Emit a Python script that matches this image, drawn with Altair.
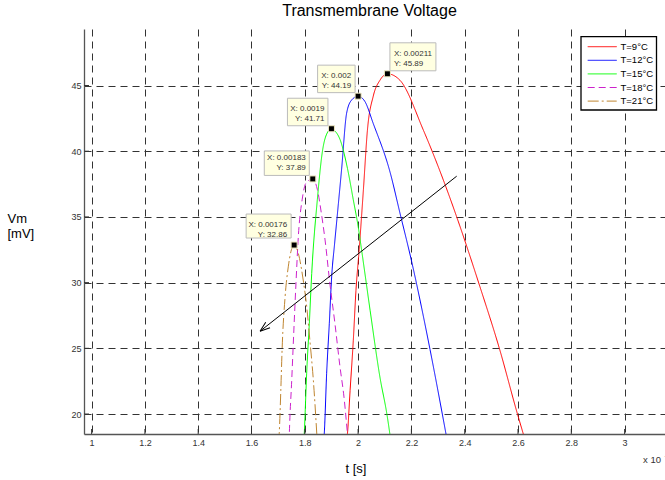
import math
import altair as alt
import pandas as pd

FONT = "Liberation Sans"

# ---------------- data (x in units of 1e-3 s, y in mV) ----------------
series_names = ["T=9°C", "T=12°C", "T=15°C", "T=18°C", "T=21°C"]

red_x = [1.955, 1.96, 1.97, 1.982, 1.992, 2.004, 2.02, 2.035, 2.057, 2.082, 2.11,
         2.157, 2.245, 2.32, 2.37, 2.457, 2.53, 2.598, 2.63]
red_y = [17.8, 18.5, 21.8, 25.6, 29.4, 32.5, 37.1, 41.6, 44.2, 45.4, 45.89,
         45.4, 41.6, 37.8, 35.0, 29.7, 25.0, 20.0, 17.8]

blue_x = [1.870, 1.873, 1.882, 1.892, 1.901, 1.912, 1.926, 1.938, 1.957, 1.976, 2.0,
          2.025, 2.057, 2.12, 2.157, 2.201, 2.27, 2.316, 2.336]
blue_y = [17.8, 18.5, 23.1, 26.9, 30.5, 33.0, 36.0, 38.6, 42.9, 43.9, 44.19,
          43.8, 42.1, 38.4, 35.3, 31.6, 24.9, 20.0, 17.8]

green_x = [1.796, 1.798, 1.807, 1.817, 1.826, 1.847, 1.867, 1.882, 1.9, 1.915, 1.932,
           1.96, 1.982, 2.0, 2.013, 2.045, 2.082, 2.108, 2.124]
green_y = [17.8, 18.5, 23.1, 26.9, 30.7, 36.3, 40.1, 41.3, 41.71, 41.5, 40.9,
           38.7, 36.3, 34.3, 32.5, 27.9, 22.8, 20.0, 17.8]

magenta_x = [1.741, 1.742, 1.751, 1.759, 1.767, 1.776, 1.79, 1.805, 1.83, 1.847, 1.862,
             1.876, 1.894, 1.913, 1.932, 1.947, 1.96, 1.963]
magenta_y = [17.8, 18.5, 22.6, 26.4, 30.0, 33.6, 36.3, 37.6, 37.89, 37.1, 35.3,
             33.25, 29.95, 26.9, 23.6, 21.3, 18.5, 17.8]

brown_x = [1.702, 1.704, 1.71, 1.715, 1.726, 1.738, 1.76, 1.776, 1.794, 1.807, 1.82, 1.832, 1.847]
brown_y = [17.8, 18.5, 21.8, 25.0, 28.9, 31.2, 32.86, 32.2, 30.2, 28.2, 25.4, 22.6, 17.8]

tip_x = [2.11, 2.0, 1.9, 1.83, 1.76]
tip_y = [45.89, 44.19, 41.71, 37.89, 32.86]
tip_xlabel = ["X: 0.00211", "X: 0.002", "X: 0.0019", "X: 0.00183", "X: 0.00176"]
tip_ylabel = ["Y: 45.89", "Y: 44.19", "Y: 41.71", "Y: 37.89", "Y: 32.86"]

arrow_x = [2.37, 1.632]
arrow_y = [38.1, 26.3]

x_ticks = [1.0, 1.2, 1.4, 1.6, 1.8, 2.0, 2.2, 2.4, 2.6, 2.8, 3.0]
y_ticks = [20, 25, 30, 35, 40, 45]
exp_label = ["x 10"]
exp_sup = ["-3"]

# ---------------- styles ----------------
colors = ["#FF0000", "#0000FF", "#00FF00", "#CC22CC", "#BF8530"]
dashes = [[1, 0], [1, 0], [1, 0], [7, 4], [11, 3, 2, 3]]

W, H = 581, 405
XDOM = [0.9715, 3.1516]
YDOM = [18.48, 49.3]
xscale = alt.Scale(domain=XDOM, nice=False, zero=False)
yscale = alt.Scale(domain=YDOM, nice=False, zero=False)

# datatip box layout (pixel offsets from marker): x0, x1, text align, text dx
tip_layout = [
    (2.5, 48.5, "left", 6.5),
    (-40.5, -3, "right", -7),
    (-44, -3.5, "right", -7),
    (-48.5, -3.5, "right", -7),
    (-48, -3, "right", -7),
]
tip_dy = [(-31, -3), (-31, -3.5), (-30.5, -3), (-28, -3.5), (-31, -7)]
tip_text_dy = [(-18, -8), (-18, -8), (-18, -8), (-19, -9), (-18.5, -8.5)]

# legend layout (plot-relative pixels)
LEG_BOX = (497, 572.5, 7.7, 81)
LEG_LINE = (503.7, 532.7)
LEG_TEXT_X = 536.5
LEG_Y0, LEG_DY = 17.7, 13.6

rows = []
for name, xs, ys in zip(series_names,
                        [red_x, blue_x, green_x, magenta_x, brown_x],
                        [red_y, blue_y, green_y, magenta_y, brown_y]):
    for i, (a, b) in enumerate(zip(xs, ys)):
        rows.append({"series": name, "x": a, "y": b, "i": i})
df = pd.DataFrame(rows)

x_axis = alt.Axis(
    values=x_ticks, format="~g", title="t [s]", titleFont=FONT, titleFontSize=13,
    titleFontWeight="normal", titleColor="black", titleX=271.5, titleY=38.7,
    titleAlign="center", titleBaseline="alphabetic", titleAnchor="start",
    labelFont=FONT, labelFontSize=9, labelColor="#333", labelPadding=4,
    labelFlush=False, labelOverlap=False, ticks=False,
    domainColor="#555", domainWidth=1.3,
    grid=True, gridColor="#333", gridDash=[7, 5], gridWidth=1,
)
y_axis = alt.Axis(
    values=y_ticks, title=["Vm", "[mV]"], titleFont=FONT, titleFontSize=13,
    titleFontWeight="normal", titleColor="black", titleAngle=0, titleX=-77,
    titleY=193, titleAlign="left", titleBaseline="alphabetic", titleLineHeight=15,
    titleAnchor="start",
    labelFont=FONT, labelFontSize=9, labelColor="#333", labelPadding=3,
    labelFlush=False, labelOverlap=False, ticks=False,
    domainColor="#555", domainWidth=1.3,
    grid=True, gridColor="#333", gridDash=[7, 5], gridWidth=1,
)


def X(field="x:Q"):
    return alt.X(field, scale=xscale, axis=x_axis)


def Y(field="y:Q"):
    return alt.Y(field, scale=yscale, axis=y_axis)


lines = alt.Chart(df).mark_line(strokeWidth=1, interpolate="monotone", clip=True).encode(
    x=X(), y=Y(),
    color=alt.Color("series:N", scale=alt.Scale(domain=series_names, range=colors), legend=None),
    strokeDash=alt.StrokeDash("series:N", scale=alt.Scale(domain=series_names, range=dashes), legend=None),
    order="i:Q",
)

# inward ticks (MATLAB style)
xt_df = pd.DataFrame({"x": x_ticks})
yt_df = pd.DataFrame({"y": y_ticks})
x_inticks = alt.Chart(xt_df).mark_tick(color="#333", thickness=1, size=5, opacity=1).encode(
    x=X(), y=alt.value(H - 2.5))
y_inticks = alt.Chart(yt_df).mark_tick(color="#333", thickness=1, size=5, opacity=1,
                                       orient="horizontal").encode(
    y=Y(), x=alt.value(2.5))

arrow_df = pd.DataFrame({"x": arrow_x, "y": arrow_y, "i": [0, 1]})
arrow_line = alt.Chart(arrow_df).mark_line(color="black", strokeWidth=1, clip=True).encode(
    x=X(), y=Y(), order="i:Q")

px_x = W / (XDOM[1] - XDOM[0])
px_y = H / (YDOM[1] - YDOM[0])
ddx = (arrow_x[1] - arrow_x[0]) * px_x
ddy = -(arrow_y[1] - arrow_y[0]) * px_y
ang = math.degrees(math.atan2(ddx, -ddy)) % 360
head_df = pd.DataFrame({"x": [arrow_x[1]], "y": [arrow_y[1]]})
arrow_head = alt.Chart(head_df).mark_point(
    shape="M0,0L-0.35,1M0,0L0.35,1", size=400, angle=ang, filled=False,
    stroke="black", strokeWidth=1, opacity=1).encode(x=X(), y=Y())

tip_df = pd.DataFrame({"x": tip_x, "y": tip_y, "xl": tip_xlabel, "yl": tip_ylabel})
tip_layers = []
for i in range(len(tip_x)):
    d = tip_df.iloc[[i]]
    x0, x1, align, tdx = tip_layout[i]
    y0, y1 = tip_dy[i]
    t0, t1 = tip_text_dy[i]
    tip_layers.append(alt.Chart(d).mark_rect(
        fill="#FFFFE1", stroke="#BBBBBB", strokeWidth=1,
        xOffset=x0, x2Offset=x1, yOffset=y0, y2Offset=y1).encode(
        x=X(), x2=alt.X2("x:Q"), y=Y(), y2=alt.Y2("y:Q")))
    tip_layers.append(alt.Chart(d).mark_text(
        align=align, baseline="alphabetic", dx=tdx, dy=t0, font=FONT, fontSize=8,
        color="#333").encode(x=X(), y=Y(), text="xl:N"))
    tip_layers.append(alt.Chart(d).mark_text(
        align=align, baseline="alphabetic", dx=tdx, dy=t1, font=FONT, fontSize=8,
        color="#333").encode(x=X(), y=Y(), text="yl:N"))

markers = alt.Chart(tip_df).mark_square(
    size=36, filled=True, fill="black", stroke="#EEE8C0", strokeWidth=1, opacity=1).encode(
    x=X(), y=Y())

# legend drawn by hand (box, sample lines, labels)
leg_df = pd.DataFrame({"series": series_names})
leg_layers = [alt.Chart(leg_df.iloc[[0]]).mark_rect(
    fill="white", stroke="black", strokeWidth=1.3).encode(
    x=alt.value(LEG_BOX[0]), x2=alt.value(LEG_BOX[1]),
    y=alt.value(LEG_BOX[2]), y2=alt.value(LEG_BOX[3]))]
for k, name in enumerate(series_names):
    d = leg_df.iloc[[k]]
    yy = LEG_Y0 + LEG_DY * k
    leg_layers.append(alt.Chart(d).mark_rule(
        stroke=colors[k], strokeWidth=1, strokeDash=dashes[k]).encode(
        x=alt.value(LEG_LINE[0]), x2=alt.value(LEG_LINE[1]), y=alt.value(yy)))
    leg_layers.append(alt.Chart(d).mark_text(
        align="left", baseline="middle", font=FONT, fontSize=9.5, color="black").encode(
        x=alt.value(LEG_TEXT_X), y=alt.value(yy), text="series:N"))

exp_text = alt.Chart(pd.DataFrame({"t": exp_label})).mark_text(
    align="left", baseline="alphabetic", font=FONT, fontSize=9.5, color="#333").encode(
    x=alt.value(559), y=alt.value(434), text="t:N")
exp_sup_text = alt.Chart(pd.DataFrame({"t": exp_sup})).mark_text(
    align="left", baseline="alphabetic", font=FONT, fontSize=6, color="#333").encode(
    x=alt.value(580.5), y=alt.value(429), text="t:N")

chart = alt.layer(lines, x_inticks, y_inticks, arrow_line, arrow_head, *tip_layers, markers,
                  *leg_layers, exp_text, exp_sup_text).properties(
    width=W, height=H,
    title=alt.TitleParams("Transmembrane Voltage", font=FONT, fontSize=16, fontWeight="normal",
                          anchor="middle", dx=-5, offset=10, color="black"),
    autosize=alt.AutoSizeParams(type="none"),
    padding={"left": 84, "top": 29, "right": 0, "bottom": 46},
    background="white",
).configure_view(strokeWidth=0)

chart.save("out.html", embed_options={"renderer": "svg", "actions": False})
